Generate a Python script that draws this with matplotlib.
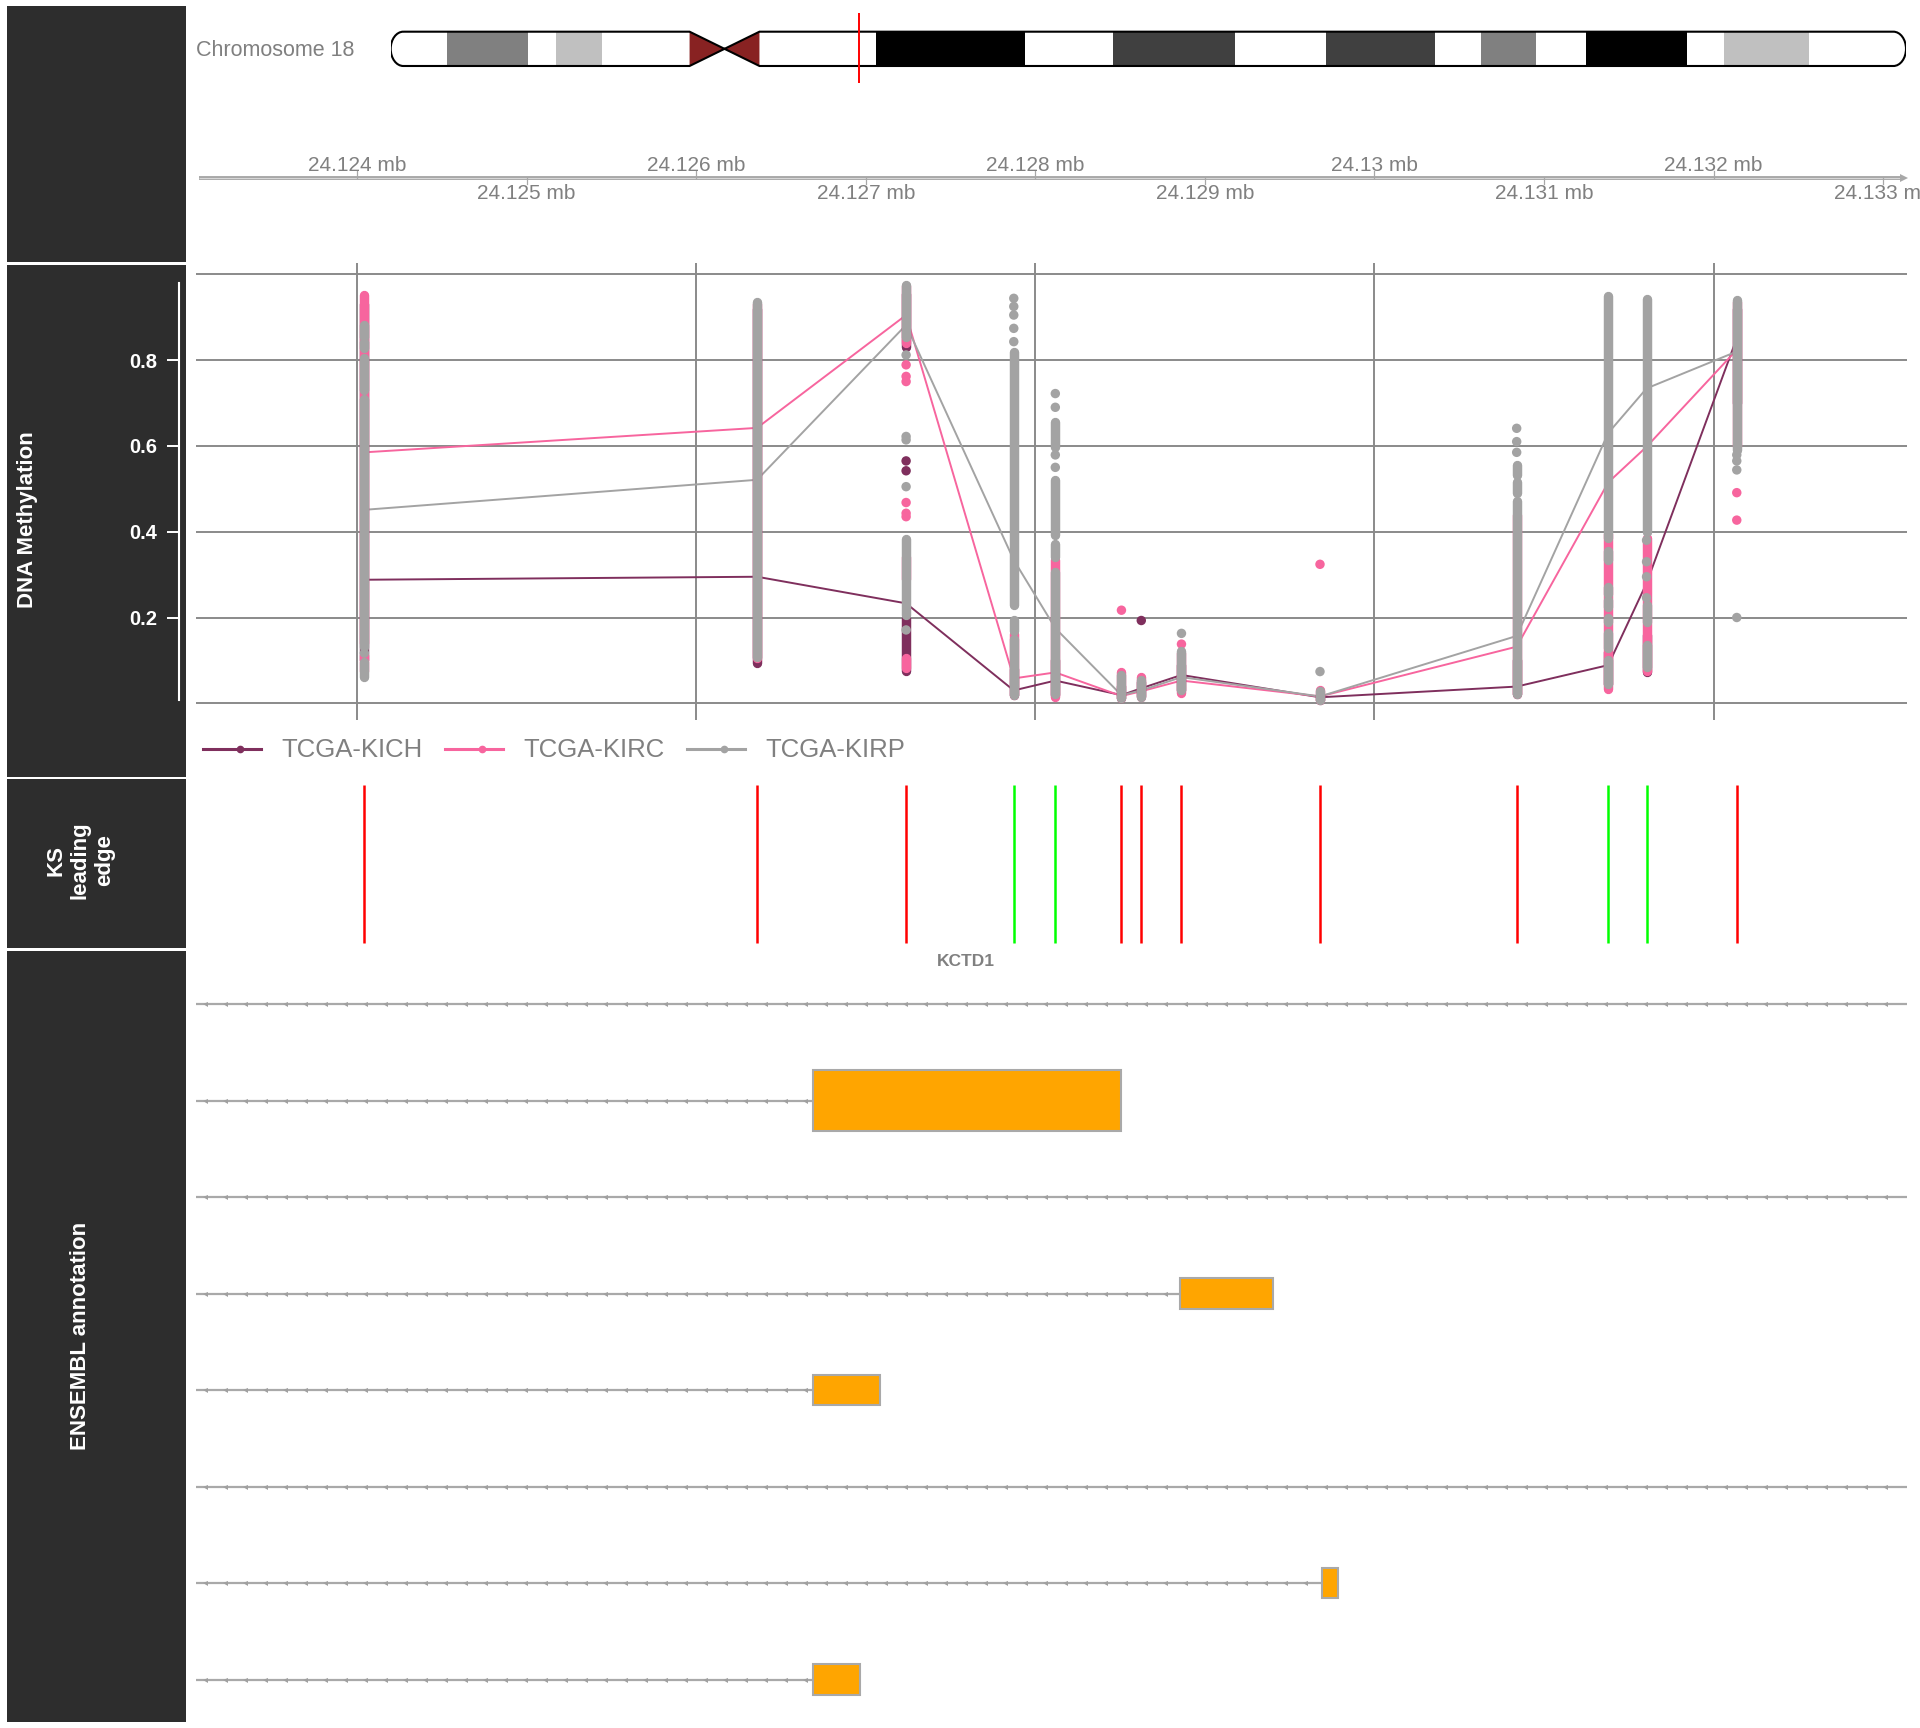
import numpy as np
import matplotlib
matplotlib.use('Agg')
import matplotlib.pyplot as plt
from matplotlib.patches import Rectangle, Polygon, PathPatch
from matplotlib.path import Path

plt.rcParams['font.family'] = ['Liberation Sans', 'DejaVu Sans']

# ---------------- data ----------------
chrom_label = "Chromosome 18"
chrom_len_mb = 78.077248
band_start = [0.0, 2.9, 7.1, 8.5, 10.9, 15.4, 17.2, 19.0, 25.0, 32.7, 37.2, 43.5,
              48.2, 53.8, 56.2, 59.0, 61.6, 66.8, 68.7, 73.1]
band_end = [2.9, 7.1, 8.5, 10.9, 15.4, 17.2, 19.0, 25.0, 32.7, 37.2, 43.5, 48.2,
            53.8, 56.2, 59.0, 61.6, 66.8, 68.7, 73.1, 78.077248]
band_stain = ['gneg', 'gpos50', 'gneg', 'gpos25', 'gneg', 'acen', 'acen', 'gneg',
              'gpos100', 'gneg', 'gpos75', 'gneg', 'gpos75', 'gneg', 'gpos50', 'gneg',
              'gpos100', 'gneg', 'gpos25', 'gneg']

region_start = 24123050
region_end = 24133141

axis_ticks = [24124000, 24125000, 24126000, 24127000, 24128000,
              24129000, 24130000, 24131000, 24132000, 24133000]
axis_tick_labels = ['24.124 mb', '24.125 mb', '24.126 mb', '24.127 mb', '24.128 mb',
                    '24.129 mb', '24.13 mb', '24.131 mb', '24.132 mb', '24.133 mb']

probe_pos = [24124043, 24126359, 24127238, 24127873, 24128118, 24128508, 24128625,
             24128862, 24129679, 24130839, 24131379, 24131605, 24132137]

groups = ['TCGA-KICH', 'TCGA-KIRC', 'TCGA-KIRP']

mean_kich = [0.288, 0.295, 0.233, 0.030, 0.053, 0.019, 0.035, 0.066, 0.014, 0.039, 0.089, 0.280, 0.851]
mean_kirc = [0.585, 0.642, 0.905, 0.058, 0.072, 0.017, 0.028, 0.053, 0.016, 0.132, 0.515, 0.598, 0.824]
mean_kirp = [0.451, 0.521, 0.882, 0.334, 0.175, 0.019, 0.030, 0.061, 0.016, 0.157, 0.630, 0.734, 0.820]

# dense runs of overlapping sample values (low, high) per probe, and isolated sample values
kich_ranges = [[(0.10, 0.93)], [(0.093, 0.92)], [(0.83, 0.955), (0.075, 0.20)], [(0.02, 0.08)],
               [(0.02, 0.10)], [(0.012, 0.04)], [(0.018, 0.05)], [(0.03, 0.09)], [(0.008, 0.02)],
               [(0.022, 0.10)], [(0.045, 0.12)], [(0.072, 0.16)], [(0.70, 0.92)]]
kich_points = [[], [], [0.565, 0.542], [], [], [], [0.193], [], [], [], [], [], []]

kirc_ranges = [[(0.075, 0.113), (0.14, 0.952)], [(0.105, 0.93)],
               [(0.84, 0.972), (0.29, 0.34), (0.082, 0.105)], [(0.02, 0.162)],
               [(0.015, 0.335)], [(0.012, 0.072)], [(0.014, 0.062)], [(0.025, 0.118)],
               [(0.008, 0.032)], [(0.022, 0.44)], [(0.033, 0.395)], [(0.075, 0.385)],
               [(0.60, 0.935)]]
kirc_points = [[], [], [0.789, 0.762, 0.750, 0.468, 0.443, 0.435], [], [], [0.217], [],
               [0.138], [0.324], [], [], [], [0.491, 0.427]]

kirp_ranges = [[(0.062, 0.097), (0.132, 0.71), (0.73, 0.805), (0.828, 0.843), (0.855, 0.882)],
               [(0.108, 0.935)],
               [(0.855, 0.975), (0.205, 0.382)],
               [(0.02, 0.150), (0.168, 0.195), (0.228, 0.82)],
               [(0.022, 0.305), (0.342, 0.372), (0.392, 0.52), (0.598, 0.655)],
               [(0.012, 0.065)], [(0.015, 0.055)], [(0.03, 0.122)], [(0.008, 0.028)],
               [(0.022, 0.472), (0.49, 0.515), (0.532, 0.555)],
               [(0.045, 0.10), (0.13, 0.165), (0.19, 0.198), (0.225, 0.24), (0.255, 0.27),
                (0.335, 0.355), (0.385, 0.95)],
               [(0.085, 0.135), (0.19, 0.228), (0.40, 0.942)],
               [(0.59, 0.94)]]
kirp_points = [[0.117], [], [0.812, 0.622, 0.614, 0.505, 0.171],
               [0.944, 0.925, 0.905, 0.874, 0.843], [0.722, 0.690, 0.579, 0.550], [], [],
               [0.163], [0.074], [0.641, 0.610, 0.585], [], [0.246, 0.295, 0.330, 0.380],
               [0.579, 0.565, 0.544, 0.200]]

ks_direction = ['down', 'down', 'down', 'up', 'up', 'down', 'down', 'down', 'down',
                'down', 'up', 'up', 'down']

gene_symbol = 'KCTD1'
gene_label_pos = 24127592
tx_intron_to = [24150000, 24126691, 24150000, 24128854, 24126691, 24150000, 24129691, 24126691]
tx_exon_start = [None, 24126691, None, 24128854, 24126691, None, 24129691, 24126691]
tx_exon_end = [None, 24128503, None, 24129402, 24127086, None, 24129788, 24126964]
tx_exon_kind = [None, 'coding', None, 'utr', 'utr', None, 'utr', 'utr']

# ---------------- style ----------------
W, H = 1920, 1728
DARK = '#2d2d2d'
GRID = '#8a8a8a'
TXT = '#808080'
col_kich = '#7f2f5d'
col_kirc = '#f7659e'
col_kirp = '#a3a3a3'
stain_col = {'gneg': '#ffffff', 'gpos25': '#c0c0c0', 'gpos50': '#808080',
             'gpos75': '#404040', 'gpos100': '#000000', 'acen': '#882222'}
PX = 72.0 / 100.0  # points per pixel

fig = plt.figure(figsize=(W / 100, H / 100), dpi=100)
fig.patch.set_facecolor('white')


def px_axes(l, t, r, b, z=1):
    ax = fig.add_axes([l / W, 1 - b / H, (r - l) / W, (b - t) / H], zorder=z)
    ax.patch.set_alpha(0)
    return ax


# background / title panels
bg = px_axes(0, 0, W, H, z=0)
bg.set_xlim(0, W)
bg.set_ylim(H, 0)
bg.axis('off')
for (t, b) in [(6, 261.5), (264.5, 776.5), (779, 948), (950.5, 1722)]:
    bg.add_patch(Rectangle((7, t), 179, b - t, facecolor=DARK, edgecolor='none'))
bg.text(28, 520, 'DNA Methylation', rotation=90, ha='center', va='center',
        color='white', fontsize=16, fontweight='bold')
bg.text(80, 860, 'KS\nleading\nedge', rotation=90, ha='center', va='center',
        color='white', fontsize=16, fontweight='bold', linespacing=1.2,
        multialignment='center')
bg.text(80, 1336, 'ENSEMBL annotation', rotation=90, ha='center', va='center',
        color='white', fontsize=16, fontweight='bold')
bg.text(196, 51, chrom_label, ha='left', va='center', color=TXT, fontsize=15.5)

# ---------------- ideogram ----------------
axi = px_axes(390.7, 13, 1906, 83, z=2)
axi.set_xlim(0, chrom_len_mb)
axi.set_ylim(0, 1)
axi.axis('off')
top, bot = 0.733, 0.243
mid = (top + bot) / 2
r = 0.65
k = 0.5523
L = chrom_len_mb
cen_l = band_start[band_stain.index('acen')]
cen_r = band_end[len(band_stain) - 1 - band_stain[::-1].index('acen')]
cen_m = band_end[band_stain.index('acen')]
verts = [(r, top), (cen_l, top), (cen_m, mid), (cen_r, top), (L - r, top),
         (L - r + r * k, top), (L, mid + (top - mid) * k), (L, mid),
         (L, mid - (mid - bot) * k), (L - r + r * k, bot), (L - r, bot),
         (cen_r, bot), (cen_m, mid), (cen_l, bot), (r, bot),
         (r - r * k, bot), (0, mid - (mid - bot) * k), (0, mid),
         (0, mid + (top - mid) * k), (r - r * k, top), (r, top)]
codes = [Path.MOVETO, Path.LINETO, Path.LINETO, Path.LINETO, Path.LINETO,
         Path.CURVE4, Path.CURVE4, Path.CURVE4, Path.CURVE4, Path.CURVE4, Path.CURVE4,
         Path.LINETO, Path.LINETO, Path.LINETO, Path.LINETO,
         Path.CURVE4, Path.CURVE4, Path.CURVE4, Path.CURVE4, Path.CURVE4, Path.CURVE4]
outline = PathPatch(Path(verts, codes), facecolor='white', edgecolor='none', zorder=1)
axi.add_patch(outline)
for s, e, st in zip(band_start, band_end, band_stain):
    if st == 'acen':
        continue
    rect = Rectangle((s, bot), e - s, top - bot, facecolor=stain_col[st], edgecolor='none', zorder=2)
    axi.add_patch(rect)
    rect.set_clip_path(outline)
axi.add_patch(Polygon([(cen_l, top), (cen_l, bot), (cen_m, mid)], closed=True,
                      facecolor=stain_col['acen'], edgecolor='none', zorder=2))
axi.add_patch(Polygon([(cen_r, top), (cen_r, bot), (cen_m, mid)], closed=True,
                      facecolor=stain_col['acen'], edgecolor='none', zorder=2))
axi.add_patch(PathPatch(Path(verts, codes), facecolor='none', edgecolor='black',
                        lw=1.5, zorder=3))
region_mid_mb = (region_start + region_end) / 2 / 1e6
axi.plot([region_mid_mb, region_mid_mb], [0, 1], color='red', lw=1.4, zorder=4)

# ---------------- genome axis ----------------
axg = px_axes(196, 120, 1907, 230, z=2)
axg.set_xlim(region_start, region_end)
axg.set_ylim(230, 120)
axg.axis('off')
x0_ax = region_start + 3 / 0.16956
x1_ax = region_end - 3 / 0.16956
axg.plot([x0_ax, x1_ax], [177.5, 177.5], color='#a8a8a8', lw=2.8, solid_capstyle='butt')
axg.plot([x0_ax, x1_ax], [177.5, 177.5], color='#d8d8d8', lw=0.7, solid_capstyle='butt')
axg.plot([x1_ax], [177.5], marker='>', color='#a8a8a8', markersize=6, mew=0)
for i, (tk, lab) in enumerate(zip(axis_ticks, axis_tick_labels)):
    if i % 2 == 0:
        axg.plot([tk, tk], [177.5, 171], color='#a8a8a8', lw=0.9)
        axg.text(tk, 165.5, lab, ha='center', va='center', color=TXT, fontsize=15)
    else:
        axg.plot([tk, tk], [177.5, 184], color='#a8a8a8', lw=0.9)
        axg.text(tk, 193.5, lab, ha='center', va='center', color=TXT, fontsize=15,
                 clip_on=False)

# ---------------- methylation ----------------
axm = px_axes(196, 263, 1907, 720, z=3)
axm.set_xlim(region_start, region_end)
y_lo = -(720 - 703.3) / 429.0
y_hi = 1 + (274.3 - 263) / 429.0
axm.set_ylim(y_lo, y_hi)
for sp in ['top', 'right', 'bottom']:
    axm.spines[sp].set_visible(False)
axm.spines['left'].set_position(('outward', (196 - 178.7) * PX))
axm.spines['left'].set_bounds(0.008, 0.98)
axm.spines['left'].set_color('white')
axm.spines['left'].set_linewidth(1.5)
axm.set_xticks([])
axm.set_yticks([0.2, 0.4, 0.6, 0.8])
axm.set_yticklabels(['0.2', '0.4', '0.6', '0.8'], fontweight='bold')
axm.tick_params(axis='y', colors='white', length=8.5, width=1.4, pad=7,
                labelsize=14.5, direction='out')
for gv in [0.0, 0.2, 0.4, 0.6, 0.8, 1.0]:
    axm.axhline(gv, color=GRID, lw=1.4, zorder=0.5)
for tk in axis_ticks[::2]:
    axm.axvline(tk, color=GRID, lw=1.4, zorder=0.5)

means = [mean_kich, mean_kirc, mean_kirp]
rngs = [kich_ranges, kirc_ranges, kirp_ranges]
pts = [kich_points, kirc_points, kirp_points]
cols = [col_kich, col_kirc, col_kirp]
dot_pt = 6.8
for gi in range(3):
    axm.plot(probe_pos, means[gi], color=cols[gi], lw=1.4, zorder=1 + gi * 0.1)
for gi in range(3):
    z = 2 + gi
    for xp, rr, pp in zip(probe_pos, rngs[gi], pts[gi]):
        for lo, hi in rr:
            axm.plot([xp, xp], [lo, hi], color=cols[gi], lw=dot_pt,
                     solid_capstyle='round', zorder=z)
        if pp:
            axm.scatter([xp] * len(pp), pp, s=dot_pt ** 2, color=cols[gi],
                        edgecolors='none', zorder=z)

# legend
leg_x = [203, 445, 687]
for gi in range(3):
    x0 = leg_x[gi]
    bg.plot([x0, x0 + 58], [749, 749], color=cols[gi], lw=2.2, zorder=5)
    bg.plot([x0 + 37], [749], marker='o', color=cols[gi], markersize=4.5, zorder=6)
    bg.text(x0 + 78, 750, groups[gi], ha='left', va='center', color=TXT, fontsize=18.5)

# ---------------- KS leading edge ----------------
axk = px_axes(196, 779, 1907, 948, z=2)
axk.set_xlim(region_start, region_end)
axk.set_ylim(0, 1)
axk.axis('off')
ks_cols = ['#ff0000' if d == 'down' else '#00ff00' for d in ks_direction]
axk.vlines(probe_pos, 0.031, 0.965, colors=ks_cols, lw=1.8)

# ---------------- ENSEMBL annotation ----------------
axa = px_axes(196, 950.5, 1907, 1722, z=2)
axa.set_xlim(region_start, region_end)
row_px = 96.5
axa.set_ylim((1722 - 1004) / row_px, (950.5 - 1004) / row_px)
axa.axis('off')
axa.text(gene_label_pos, (961.7 - 1004) / row_px, gene_symbol, ha='center', va='center',
         color=TXT, fontsize=12.5, fontweight='bold')
chev_step = 20 / 0.16956
chev_off = 9 / 0.16956
line_col = '#a9a9a9'
for row in range(len(tx_intron_to)):
    end = tx_intron_to[row]
    axa.plot([region_start - 1000, end], [row, row], color=line_col, lw=1.6, zorder=2)
    stop = min(end, region_end) - 4 / 0.16956
    chev = np.arange(region_start + chev_off, stop, chev_step)
    axa.plot(chev, [row] * len(chev), linestyle='none', marker='<', markersize=3.6,
             color='#a0a0a0', mew=0, zorder=3)
    if tx_exon_start[row] is not None:
        h = 61 / row_px if tx_exon_kind[row] == 'coding' else 30.7 / row_px
        axa.add_patch(Rectangle((tx_exon_start[row], row - h / 2),
                                tx_exon_end[row] - tx_exon_start[row], h,
                                facecolor='#ffa500', edgecolor='#a9a9a9', lw=1.5, zorder=4))

fig.savefig('out.png', dpi=100, facecolor='white')
